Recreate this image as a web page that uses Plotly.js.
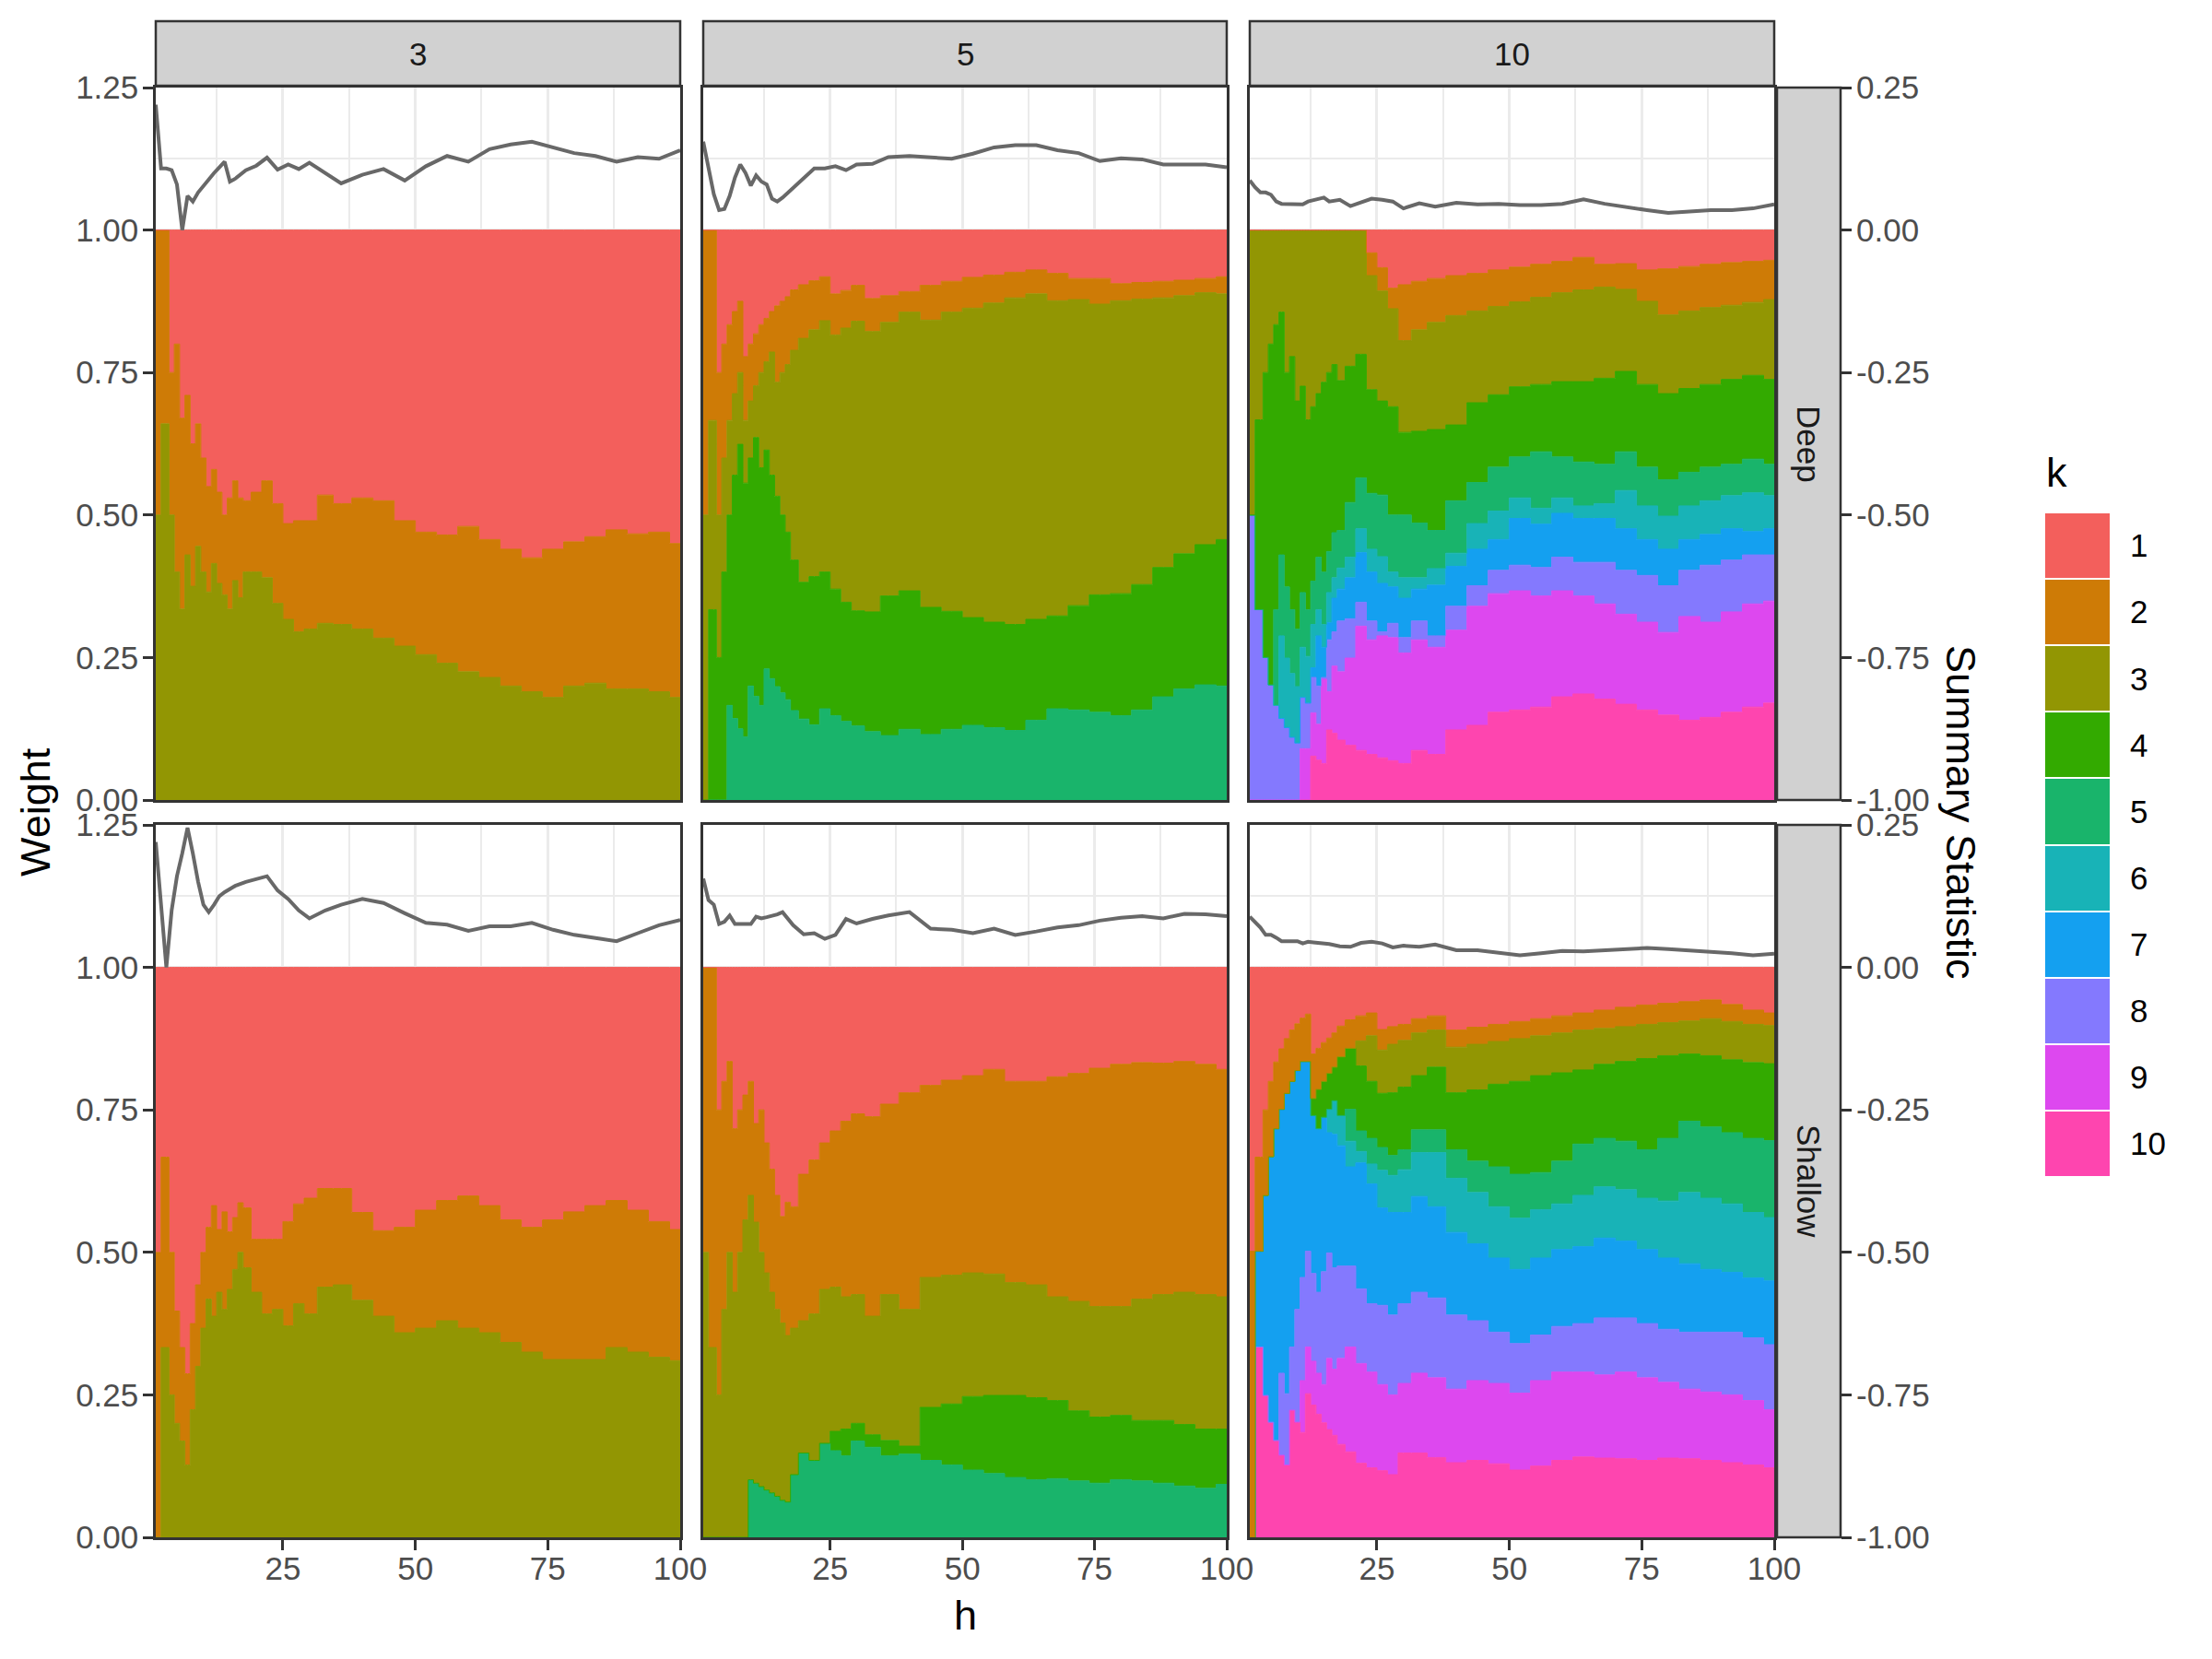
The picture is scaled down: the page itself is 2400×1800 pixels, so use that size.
<!DOCTYPE html>
<html>
<head>
<meta charset="utf-8">
<script src="https://cdn.plot.ly/plotly-3.0.1.min.js"></script>
<style>html,body{margin:0;padding:0;background:#fff}</style>
</head>
<body>
<div id="chart" style="width:2400px;height:1800px"></div>
<script>
// h positions of the weight bars and of the summary-statistic line
const hBand = [1,3,4,5,6,7,8,9,10,11,12,13,14,15,16,17,18,20,22,24,26,28,30,33,36,40,44,48,52,56,60,64,68,72,76,80,84,88,92,96,100];
const hLine = [1,2,3,4,5,6,7,8,9,10,11,12,13,14,15,16,18,20,22,24,26,28,30,33,36,40,44,48,52,56,60,64,68,72,76,80,84,88,92,96,100];

// facet labels and legend
const kMax = ['3', '5', '10'];
const depthLabels = ['Deep', 'Shallow'];
const kLabels = ['1','2','3','4','5','6','7','8','9','10'];
const kColors = ['#F35F5C','#CE7B06','#929603','#33AA00','#19B46B','#18B3B7','#14A0F0','#8479FE','#DD48EF','#FE45AF'];
const summaryTicks = [-1, -0.75, -0.5, -0.25, 0, 0.25];
const summaryTickText = ['-1.00','-0.75','-0.50','-0.25','0.00','0.25'];

// all weights add up to 1 at every h
const totalWeight = [1,1,1,1,1,1,1,1,1,1,1,1,1,1,1,1,1,1,1,1,1,1,1,1,1,1,1,1,1,1,1,1,1,1,1,1,1,1,1,1,1];

// geJ = total weight on k >= J
// ---- Deep, k max 3
const deep3_ge2 = [1,1,0.75,0.80,0.67,0.71,0.625,0.66,0.60,0.55,0.58,0.54,0.50,0.53,0.56,0.53,
  0.525,0.54,0.56,0.52,0.485,0.49,0.49,0.535,0.52,0.53,0.525,0.49,0.47,0.465,0.48,0.457,0.44,0.425,0.44,0.453,0.462,0.474,0.467,0.47,0.45];
const deep3_ge3 = [0.5,0.66,0.5,0.40,0.335,0.43,0.375,0.445,0.40,0.365,0.415,0.38,0.36,0.335,0.385,0.355,
  0.40,0.40,0.39,0.345,0.317,0.295,0.30,0.31,0.308,0.30,0.284,0.27,0.255,0.24,0.225,0.215,0.20,0.19,0.18,0.20,0.205,0.195,0.195,0.19,0.18];
const deep3_stat = [0.22,0.108,0.108,0.105,0.08,0.0,0.06,0.05,0.066,0.078,0.09,0.10,0.11,0.12,0.085,0.09,
  0.105,0.113,0.127,0.106,0.115,0.107,0.118,0.10,0.082,0.097,0.107,0.087,0.112,0.13,0.12,0.142,0.15,0.155,0.145,0.135,0.13,0.12,0.128,0.125,0.14];

// ---- Deep, k max 5
const deep5_ge2 = [1,1,0.75,0.80,0.834,0.857,0.875,0.778,0.80,0.818,0.834,0.845,0.857,0.867,0.875,0.883,
  0.895,0.904,0.911,0.918,0.888,0.894,0.903,0.88,0.885,0.892,0.903,0.91,0.917,0.921,0.926,0.93,0.924,0.915,0.915,0.906,0.908,0.91,0.912,0.915,0.918];
const deep5_ge3 = [0.50,0.666,0.50,0.60,0.666,0.713,0.75,0.666,0.70,0.727,0.75,0.769,0.786,0.733,0.75,0.764,
  0.789,0.81,0.825,0.841,0.816,0.828,0.84,0.822,0.838,0.856,0.842,0.856,0.863,0.872,0.881,0.888,0.876,0.878,0.87,0.876,0.879,0.881,0.885,0.89,0.888];
const deep5_ge4 = [0,0.334,0.25,0.40,0.50,0.57,0.624,0.556,0.60,0.636,0.583,0.614,0.57,0.533,0.50,0.47,
  0.421,0.382,0.392,0.40,0.37,0.347,0.332,0.33,0.358,0.367,0.338,0.331,0.32,0.312,0.308,0.317,0.323,0.341,0.36,0.362,0.378,0.408,0.432,0.448,0.457];
const deep5_ge5 = [0,0,0,0,0.166,0.143,0.125,0.111,0.20,0.182,0.166,0.23,0.213,0.199,0.188,0.176,
  0.157,0.142,0.132,0.16,0.148,0.138,0.13,0.12,0.113,0.124,0.115,0.124,0.131,0.127,0.122,0.14,0.16,0.158,0.154,0.148,0.158,0.181,0.195,0.202,0.20];
const deep5_stat = [0.155,0.105,0.063,0.035,0.037,0.06,0.092,0.115,0.10,0.078,0.096,0.085,0.08,0.055,0.05,0.057,
  0.074,0.092,0.108,0.108,0.112,0.105,0.115,0.116,0.128,0.13,0.128,0.125,0.134,0.145,0.149,0.149,0.14,0.135,0.121,0.126,0.124,0.115,0.115,0.115,0.11];

// ---- Deep, k max 10
const deep10_ge2 = [1,1,1,1,1,1,1,1,1,1,1,1,1,1,1,1,
  1,1,1,0.96,0.934,0.898,0.904,0.91,0.915,0.92,0.924,0.93,0.935,0.94,0.945,0.952,0.94,0.941,0.93,0.932,0.936,0.94,0.943,0.945,0.947];
const deep10_ge3 = [1,1,1,1,1,1,1,1,1,1,1,1,1,1,1,1,
  1,1,1,0.92,0.893,0.862,0.806,0.825,0.838,0.85,0.858,0.866,0.874,0.882,0.89,0.895,0.9,0.896,0.875,0.851,0.858,0.864,0.868,0.873,0.878];
const deep10_ge4 = [0.50,0.667,0.75,0.80,0.834,0.856,0.75,0.778,0.70,0.726,0.667,0.69,0.713,0.733,0.75,0.764,
  0.736,0.761,0.782,0.72,0.70,0.69,0.645,0.647,0.65,0.658,0.697,0.711,0.725,0.729,0.734,0.734,0.74,0.752,0.729,0.713,0.722,0.729,0.738,0.745,0.738];
const deep10_ge5 = [0.5,0.334,0.25,0.202,0.334,0.43,0.374,0.334,0.30,0.364,0.334,0.384,0.426,0.40,0.436,0.469,
  0.473,0.522,0.565,0.538,0.535,0.50,0.50,0.486,0.473,0.525,0.557,0.584,0.602,0.611,0.602,0.593,0.589,0.611,0.584,0.562,0.575,0.584,0.589,0.598,0.589];
const deep10_ge6 = [0.5,0.334,0.25,0.202,0.166,0.288,0.249,0.222,0.199,0.268,0.252,0.308,0.334,0.308,0.364,0.39,
  0.407,0.426,0.476,0.44,0.427,0.40,0.39,0.39,0.406,0.433,0.485,0.507,0.53,0.512,0.53,0.516,0.52,0.543,0.516,0.498,0.516,0.525,0.534,0.539,0.534];
const deep10_ge7 = [0.5,0.334,0.25,0.202,0.166,0.143,0.127,0.11,0.10,0.18,0.17,0.232,0.288,0.268,0.311,0.354,
  0.37,0.39,0.434,0.40,0.38,0.374,0.354,0.37,0.377,0.41,0.44,0.457,0.494,0.484,0.503,0.494,0.494,0.476,0.457,0.44,0.457,0.466,0.476,0.471,0.476];
const deep10_ge8 = [0.5,0.334,0.25,0.202,0.166,0.143,0.127,0.11,0.10,0.18,0.17,0.215,0.20,0.215,0.281,0.295,
  0.314,0.318,0.347,0.314,0.295,0.31,0.285,0.314,0.288,0.34,0.376,0.403,0.412,0.408,0.426,0.417,0.417,0.403,0.394,0.376,0.403,0.412,0.421,0.43,0.43];
const deep10_ge9 = [0,0,0,0,0,0,0,0,0,0.09,0.09,0.153,0.133,0.212,0.19,0.235,
  0.225,0.249,0.305,0.281,0.288,0.285,0.258,0.281,0.268,0.298,0.34,0.362,0.367,0.358,0.367,0.358,0.344,0.326,0.312,0.294,0.322,0.312,0.33,0.344,0.349];
const deep10_ge10 = [0,0,0,0,0,0,0,0,0,0,0,0.077,0.07,0.064,0.123,0.117,
  0.105,0.096,0.087,0.08,0.074,0.069,0.064,0.087,0.08,0.123,0.131,0.154,0.158,0.163,0.181,0.186,0.177,0.168,0.158,0.149,0.14,0.145,0.154,0.163,0.17];
const deep10_stat = [0.087,0.075,0.066,0.066,0.062,0.05,0.046,0.046,0.046,0.046,0.045,0.05,0.052,0.055,0.057,0.05,
  0.053,0.042,0.048,0.055,0.053,0.05,0.038,0.047,0.041,0.048,0.045,0.046,0.044,0.044,0.046,0.054,0.046,0.04,0.035,0.03,0.033,0.035,0.035,0.038,0.045];

// ---- Shallow, k max 3
const shallow3_ge2 = [0.5,0.667,0.5,0.397,0.333,0.287,0.375,0.443,0.50,0.544,0.582,0.54,0.571,0.536,0.561,0.587,
  0.578,0.523,0.523,0.523,0.554,0.585,0.595,0.612,0.612,0.57,0.538,0.544,0.574,0.591,0.599,0.582,0.557,0.544,0.557,0.571,0.582,0.591,0.574,0.554,0.54];
const shallow3_ge3 = [0,0.333,0.25,0.20,0.169,0.127,0.224,0.30,0.367,0.418,0.388,0.43,0.40,0.435,0.47,0.50,
  0.473,0.43,0.392,0.40,0.371,0.41,0.392,0.439,0.443,0.416,0.388,0.359,0.367,0.38,0.367,0.359,0.342,0.325,0.312,0.312,0.312,0.333,0.325,0.316,0.31];
const shallow3_stat = [0.22,0.11,0.0,0.10,0.16,0.20,0.245,0.20,0.15,0.11,0.097,0.11,0.125,0.132,0.138,0.143,
  0.15,0.155,0.16,0.135,0.12,0.10,0.086,0.10,0.11,0.12,0.113,0.095,0.078,0.075,0.064,0.072,0.072,0.078,0.066,0.057,0.051,0.046,0.06,0.074,0.083];

// ---- Shallow, k max 5
const shallow5_ge2 = [1,1,0.75,0.80,0.835,0.717,0.75,0.776,0.80,0.726,0.75,0.692,0.646,0.60,0.563,0.588,
  0.58,0.637,0.662,0.692,0.713,0.73,0.743,0.738,0.76,0.78,0.793,0.802,0.81,0.821,0.80,0.80,0.808,0.814,0.823,0.83,0.833,0.832,0.835,0.83,0.821];
const shallow5_ge3 = [0.5,0.333,0.25,0.40,0.50,0.43,0.50,0.557,0.60,0.553,0.50,0.464,0.43,0.40,0.376,0.354,
  0.367,0.38,0.392,0.435,0.439,0.422,0.426,0.388,0.426,0.40,0.456,0.46,0.464,0.462,0.447,0.443,0.422,0.414,0.405,0.405,0.418,0.426,0.43,0.426,0.422];
const shallow5_ge4 = [0,0,0,0,0,0,0,0,0.101,0.095,0.089,0.083,0.078,0.072,0.065,0.062,
  0.11,0.148,0.135,0.165,0.186,0.19,0.20,0.18,0.17,0.16,0.228,0.234,0.247,0.249,0.249,0.245,0.24,0.222,0.211,0.214,0.205,0.205,0.198,0.19,0.19];
const shallow5_ge5 = [0,0,0,0,0,0,0,0,0.101,0.095,0.089,0.083,0.078,0.072,0.065,0.062,
  0.11,0.148,0.135,0.165,0.152,0.143,0.169,0.158,0.143,0.146,0.135,0.127,0.118,0.112,0.105,0.101,0.103,0.099,0.095,0.101,0.099,0.095,0.09,0.086,0.093];
const shallow5_stat = [0.156,0.118,0.11,0.076,0.08,0.091,0.076,0.076,0.076,0.076,0.089,0.086,0.088,0.09,0.093,0.097,
  0.074,0.058,0.06,0.05,0.057,0.085,0.077,0.085,0.091,0.097,0.068,0.066,0.06,0.068,0.057,0.063,0.07,0.074,0.082,0.087,0.09,0.086,0.094,0.093,0.09];

// ---- Shallow, k max 10
const shallow10_ge2 = [0.502,0.667,0.75,0.80,0.834,0.857,0.875,0.89,0.901,0.911,0.918,0.848,0.858,0.868,0.876,0.885,
  0.897,0.908,0.915,0.92,0.891,0.896,0.90,0.91,0.915,0.89,0.895,0.90,0.905,0.91,0.915,0.92,0.925,0.93,0.934,0.937,0.94,0.943,0.935,0.925,0.92];
const shallow10_ge3 = [0,0.502,0.60,0.668,0.717,0.751,0.779,0.80,0.819,0.835,0.835,0.77,0.786,0.80,0.814,0.825,
  0.843,0.858,0.871,0.88,0.855,0.865,0.872,0.885,0.89,0.86,0.865,0.87,0.875,0.88,0.885,0.89,0.893,0.896,0.90,0.903,0.906,0.91,0.905,0.90,0.898];
const shallow10_ge4 = [0,0.502,0.60,0.668,0.717,0.751,0.779,0.80,0.819,0.835,0.835,0.77,0.786,0.80,0.814,0.825,
  0.843,0.858,0.827,0.80,0.779,0.78,0.79,0.81,0.825,0.78,0.785,0.795,0.80,0.81,0.815,0.82,0.83,0.835,0.84,0.845,0.848,0.845,0.838,0.833,0.831];
const shallow10_ge5 = [0,0.502,0.60,0.668,0.717,0.751,0.779,0.80,0.819,0.835,0.835,0.74,0.717,0.737,0.751,0.766,
  0.74,0.751,0.713,0.70,0.684,0.67,0.68,0.715,0.715,0.68,0.66,0.65,0.637,0.64,0.66,0.69,0.70,0.695,0.68,0.70,0.73,0.72,0.71,0.70,0.696];
const shallow10_ge6 = [0,0.502,0.60,0.668,0.717,0.751,0.779,0.80,0.819,0.835,0.835,0.74,0.717,0.737,0.751,0.766,
  0.74,0.695,0.677,0.655,0.644,0.635,0.645,0.675,0.675,0.63,0.605,0.58,0.56,0.575,0.585,0.60,0.615,0.61,0.595,0.59,0.605,0.595,0.585,0.57,0.561];
const shallow10_ge7 = [0,0.502,0.60,0.668,0.717,0.751,0.779,0.80,0.819,0.835,0.835,0.74,0.717,0.737,0.71,0.707,
  0.687,0.65,0.657,0.62,0.578,0.57,0.57,0.598,0.58,0.535,0.515,0.49,0.47,0.49,0.505,0.51,0.525,0.52,0.505,0.49,0.48,0.47,0.465,0.455,0.45];
const shallow10_ge8 = [0,0.334,0.249,0.202,0.17,0.288,0.252,0.334,0.40,0.456,0.502,0.463,0.43,0.466,0.499,0.473,
  0.476,0.476,0.436,0.41,0.407,0.39,0.41,0.43,0.42,0.39,0.38,0.36,0.34,0.355,0.37,0.375,0.385,0.385,0.375,0.365,0.36,0.36,0.36,0.35,0.338];
const shallow10_ge9 = [0,0.334,0.249,0.202,0.17,0.144,0.127,0.223,0.202,0.275,0.334,0.309,0.288,0.268,0.314,0.295,
  0.314,0.334,0.305,0.29,0.268,0.25,0.27,0.288,0.28,0.26,0.275,0.27,0.253,0.275,0.29,0.29,0.285,0.29,0.28,0.272,0.26,0.255,0.25,0.24,0.224];
const shallow10_ge10 = [0,0.334,0.249,0.202,0.17,0.144,0.127,0.223,0.202,0.184,0.252,0.232,0.216,0.201,0.189,0.179,
  0.163,0.15,0.13,0.122,0.117,0.11,0.148,0.148,0.14,0.131,0.135,0.129,0.118,0.125,0.135,0.141,0.139,0.138,0.135,0.139,0.138,0.135,0.131,0.127,0.122];
const shallow10_stat = [0.089,0.08,0.07,0.057,0.057,0.052,0.046,0.046,0.046,0.046,0.042,0.045,0.044,0.043,0.043,0.041,
  0.037,0.036,0.043,0.045,0.042,0.035,0.038,0.036,0.04,0.03,0.03,0.025,0.021,0.025,0.029,0.028,0.03,0.031,0.034,0.032,0.03,0.027,0.025,0.021,0.024];

// panel grid: rows = depth, cols = k max
const panels = [
  {row: 0, col: 0, bands: [deep3_ge2, deep3_ge3], stat: deep3_stat},
  {row: 0, col: 1, bands: [deep5_ge2, deep5_ge3, deep5_ge4, deep5_ge5], stat: deep5_stat},
  {row: 0, col: 2, bands: [deep10_ge2, deep10_ge3, deep10_ge4, deep10_ge5, deep10_ge6, deep10_ge7, deep10_ge8, deep10_ge9, deep10_ge10], stat: deep10_stat},
  {row: 1, col: 0, bands: [shallow3_ge2, shallow3_ge3], stat: shallow3_stat},
  {row: 1, col: 1, bands: [shallow5_ge2, shallow5_ge3, shallow5_ge4, shallow5_ge5], stat: shallow5_stat},
  {row: 1, col: 2, bands: [shallow10_ge2, shallow10_ge3, shallow10_ge4, shallow10_ge5, shallow10_ge6, shallow10_ge7, shallow10_ge8, shallow10_ge9, shallow10_ge10], stat: shallow10_stat}
];

const W = 2400, HT = 1800;
const fx = v => v / W;
const fy = v => 1 - v / HT;
const FONT = '"Liberation Sans", Arial, Helvetica, sans-serif';
const colPx = [[169, 738], [763, 1331], [1356, 1925]];
const rowPx = [[95, 868], [895, 1668]];
const stripRight = [1928, 1997];
const tickFont = {family: FONT, size: 35, color: '#4D4D4D'};
const gridCol = '#EBEBEB';
const borderCol = '#333333';

const layout = {
  width: W, height: HT,
  margin: {l: 0, r: 0, t: 0, b: 0},
  paper_bgcolor: '#ffffff', plot_bgcolor: '#ffffff',
  showlegend: false, hovermode: false, bargap: 0,
  font: {family: FONT, color: '#000000'},
  shapes: [], annotations: []
};

const data = [];
const lines = [];

panels.forEach((p, i) => {
  const n = i + 1;
  const xa = n === 1 ? 'xaxis' : 'xaxis' + n;
  const ya = n === 1 ? 'yaxis' : 'yaxis' + n;
  const xr = n === 1 ? 'x' : 'x' + n;
  const yr = n === 1 ? 'y' : 'y' + n;
  const y2n = n + 6;

  layout[xa] = {
    domain: [fx(colPx[p.col][0]), fx(colPx[p.col][1])], anchor: yr,
    range: [1, 100], tick0: 0, dtick: 25,
    showticklabels: p.row === 1, ticks: p.row === 1 ? 'outside' : '',
    ticklen: 11, tickwidth: 3, tickcolor: borderCol, tickfont: tickFont, ticklabelstandoff: -10,
    showgrid: true, gridcolor: gridCol, gridwidth: 3, zeroline: false,
    minor: {tick0: 0, dtick: 12.5, showgrid: true, gridcolor: gridCol, gridwidth: 1.5, ticks: ''},
    showline: true, mirror: true, linecolor: borderCol, linewidth: 2.5, fixedrange: true
  };
  layout[ya] = {
    domain: [fy(rowPx[p.row][1]), fy(rowPx[p.row][0])], anchor: xr,
    range: [0, 1.25], tick0: 0, dtick: 0.25, tickformat: '.2f',
    showticklabels: p.col === 0, ticks: p.col === 0 ? 'outside' : '',
    ticklen: 11, tickwidth: 3, tickcolor: borderCol, tickfont: tickFont, ticklabelstandoff: -2,
    showgrid: true, gridcolor: gridCol, gridwidth: 3, zeroline: false,
    minor: {tick0: 0, dtick: 0.125, showgrid: true, gridcolor: gridCol, gridwidth: 1.5, ticks: ''},
    showline: true, mirror: true, linecolor: borderCol, linewidth: 2.5, fixedrange: true
  };
  // secondary axis for the summary statistic (drawn only on the right column)
  const sec = {
    overlaying: yr, side: 'right', range: [-1, 0.25],
    showgrid: false, zeroline: false, showline: false, fixedrange: true
  };
  if (p.col === 2) {
    Object.assign(sec, {
      anchor: 'free', position: fx(stripRight[1]),
      tickvals: summaryTicks, ticktext: summaryTickText,
      ticks: 'outside', ticklen: 11, tickwidth: 3, tickcolor: borderCol,
      tickfont: tickFont, ticklabelstandoff: -2
    });
  } else {
    Object.assign(sec, {anchor: xr, showticklabels: false, ticks: ''});
  }
  layout['yaxis' + y2n] = sec;

  // stacked weight bands, k = K at the bottom up to k = 1 on top
  const K = p.bands.length + 1;
  for (let k = K; k >= 1; k--) {
    const top = k === 1 ? totalWeight : p.bands[k - 2];
    data.push({
      type: 'scatter', mode: 'lines', x: hBand, y: top,
      xaxis: xr, yaxis: yr,
      fill: k === K ? 'tozeroy' : 'tonexty',
      fillcolor: kColors[k - 1],
      line: {shape: 'hvh', width: 1, color: kColors[k - 1]},
      hoverinfo: 'skip'
    });
  }
  lines.push({
    type: 'scatter', mode: 'lines', x: hLine, y: p.stat,
    xaxis: xr, yaxis: 'y' + y2n,
    line: {color: '#686868', width: 4},
    hoverinfo: 'skip'
  });
});

data.push(...lines);

// legend drawn as a stacked column of keys
const legendKeyLen = kLabels.map(() => 1);
data.push({
  type: 'bar', orientation: 'h', x: legendKeyLen, y: kLabels,
  xaxis: 'x7', yaxis: 'y13',
  marker: {color: kColors, line: {color: '#ffffff', width: 2}},
  hoverinfo: 'skip'
});
layout.xaxis7 = {domain: [fx(2218), fx(2290)], anchor: 'y13', range: [0, 1], visible: false, fixedrange: true};
layout.yaxis13 = {
  domain: [fy(1277), fy(556)], anchor: 'x7', type: 'category',
  categoryorder: 'array', categoryarray: kLabels.slice().reverse(),
  side: 'right', showgrid: false, zeroline: false, showline: false, ticks: '',
  tickfont: {family: FONT, size: 35, color: '#000000'}, ticklabelstandoff: 20, fixedrange: true
};

// facet strips
const stripStyle = {type: 'rect', xref: 'paper', yref: 'paper', fillcolor: '#D1D1D1', line: {color: borderCol, width: 2.5}};
const stripFont = {family: FONT, size: 35, color: '#1A1A1A'};
colPx.forEach((c, j) => {
  layout.shapes.push(Object.assign({x0: fx(c[0]), x1: fx(c[1]), y0: fy(93), y1: fy(23)}, stripStyle));
  layout.annotations.push({text: kMax[j], x: fx((c[0] + c[1]) / 2), y: fy(58), xref: 'paper', yref: 'paper',
    showarrow: false, xanchor: 'center', yanchor: 'middle', font: stripFont});
});
rowPx.forEach((r, j) => {
  layout.shapes.push(Object.assign({x0: fx(stripRight[0]), x1: fx(stripRight[1]), y0: fy(r[1]), y1: fy(r[0])}, stripStyle));
  layout.annotations.push({text: depthLabels[j], x: fx((stripRight[0] + stripRight[1]) / 2), y: fy((r[0] + r[1]) / 2),
    xref: 'paper', yref: 'paper', showarrow: false, textangle: 90, xanchor: 'center', yanchor: 'middle', font: stripFont});
});

// axis titles and legend title
const titleFont = {family: FONT, size: 45, color: '#000000'};
layout.annotations.push(
  {text: 'Weight', x: fx(38), y: fy(881), xref: 'paper', yref: 'paper', showarrow: false, textangle: -90,
    xanchor: 'center', yanchor: 'middle', font: titleFont},
  {text: 'Summary Statistic', x: fx(2128), y: fy(881), xref: 'paper', yref: 'paper', showarrow: false, textangle: 90,
    xanchor: 'center', yanchor: 'middle', font: titleFont},
  {text: 'h', x: fx(1047), y: fy(1752), xref: 'paper', yref: 'paper', showarrow: false,
    xanchor: 'center', yanchor: 'middle', font: titleFont},
  {text: 'k', x: fx(2218), y: fy(540), xref: 'paper', yref: 'paper', showarrow: false,
    xanchor: 'left', yanchor: 'bottom', font: titleFont}
);

Plotly.newPlot('chart', data, layout, {displayModeBar: false, responsive: false});
</script>
</body>
</html>
